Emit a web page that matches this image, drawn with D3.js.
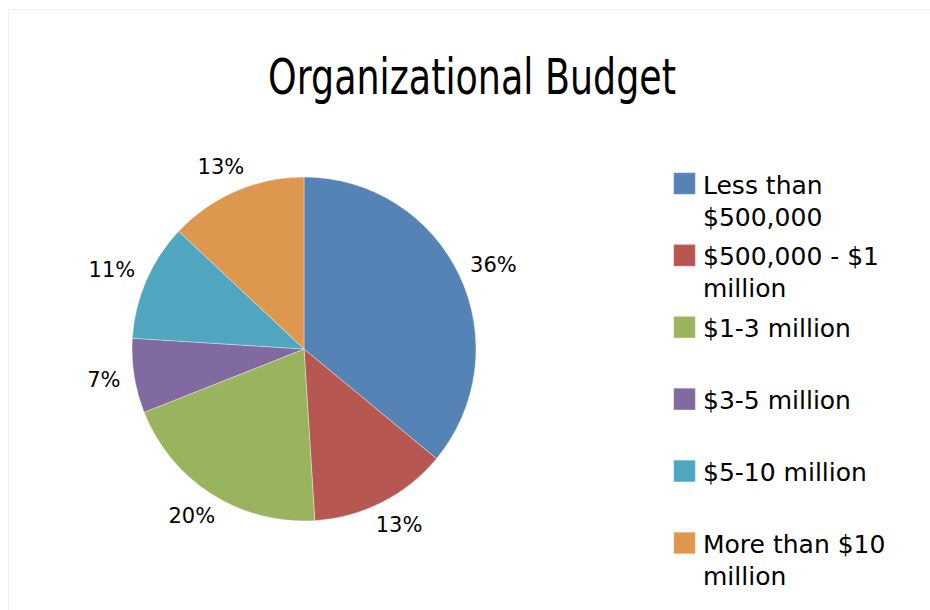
<!DOCTYPE html>
<html>
<head>
<meta charset="utf-8">
<script src="https://cdn.jsdelivr.net/npm/d3@7"></script>
<style>
  html, body { margin: 0; padding: 0; background: #ffffff; }
  svg { display: block; }
</style>
</head>
<body>
<script>
// Budget brackets and their share of organizations (percent)
const categories = [
  "Less than $500,000",
  "$500,000 - $1 million",
  "$1-3 million",
  "$3-5 million",
  "$5-10 million",
  "More than $10 million"
];
const shares = [36, 13, 20, 7, 11, 13];
const colors = ["#5683b5", "#b65752", "#9ab35e", "#806aa0", "#4fa6be", "#de974f"];
const title = "Organizational Budget";

const width = 930, height = 610;
const cx = 304, cy = 349, radius = 172;

const svg = d3.select("body").append("svg")
  .attr("width", width)
  .attr("height", height);

// faint chart-area frame
svg.append("path")
  .attr("d", "M8.5,610 V9.5 H930")
  .attr("fill", "none")
  .attr("stroke", "#efefef")
  .attr("stroke-width", 1);

// title
svg.append("text")
  .attr("x", 268)
  .attr("y", 94)
  .attr("font-family", "DejaVu Sans, sans-serif")
  .attr("font-size", 49)
  .attr("textLength", 408)
  .attr("lengthAdjust", "spacingAndGlyphs")
  .attr("fill", "#000")
  .text(title);

const data = categories.map((c, i) => ({ name: c, value: shares[i], color: colors[i] }));

const pie = d3.pie().value(d => d.value).sort(null);
const arcs = pie(data);
const arc = d3.arc().innerRadius(0).outerRadius(radius);

const g = svg.append("g").attr("transform", `translate(${cx},${cy})`);

g.selectAll("path.slice")
  .data(arcs)
  .join("path")
  .attr("class", "slice")
  .attr("d", arc)
  .attr("fill", d => d.data.color)
  .attr("stroke", "#ffffff")
  .attr("stroke-opacity", 0.6)
  .attr("stroke-width", 0.6);

// percentage labels outside each slice: nearest box edge sits just past the rim
const labelGap = 14;
const labels = g.selectAll("text.pct")
  .data(arcs)
  .join("text")
  .attr("class", "pct")
  .attr("font-family", "DejaVu Sans, sans-serif")
  .attr("font-size", 21)
  .attr("fill", "#000")
  .attr("text-anchor", "middle")
  .attr("dominant-baseline", "central")
  .text(d => d.data.value + "%");

labels.each(function(d) {
  const bb = this.getBBox();
  const a = (d.startAngle + d.endAngle) / 2;
  const ux = Math.sin(a), uy = -Math.cos(a);
  const r = radius + labelGap;
  const x = ux * r + ux * bb.width / 2;
  const y = uy * r + uy * bb.height / 2;
  d3.select(this).attr("x", x).attr("y", y);
});

// legend
const legendX = 674, legendY = 173, legendStep = 71.9, swatch = 21;
const lineH = 32, wrapWidth = 195;

const legend = svg.append("g");
data.forEach((d, i) => {
  const y0 = legendY + i * legendStep;
  legend.append("rect")
    .attr("x", legendX)
    .attr("y", y0)
    .attr("width", swatch)
    .attr("height", swatch)
    .attr("fill", d.color)
    .attr("stroke", d3.color(d.color).brighter(0.4))
    .attr("stroke-width", 0.6);

  const t = legend.append("text")
    .attr("x", legendX + swatch + 8)
    .attr("y", y0 + 20.5)
    .attr("font-family", "DejaVu Sans, sans-serif")
    .attr("font-size", 25)
    .attr("fill", "#000");

  // greedy word wrap
  const words = d.name.split(" ");
  let line = [];
  let tspan = t.append("tspan").attr("x", legendX + swatch + 8).attr("dy", 0);
  words.forEach(w => {
    line.push(w);
    tspan.text(line.join(" "));
    if (tspan.node().getComputedTextLength() > wrapWidth && line.length > 1) {
      line.pop();
      tspan.text(line.join(" "));
      line = [w];
      tspan = t.append("tspan").attr("x", legendX + swatch + 8).attr("dy", lineH).text(w);
    }
  });
});
</script>
</body>
</html>
